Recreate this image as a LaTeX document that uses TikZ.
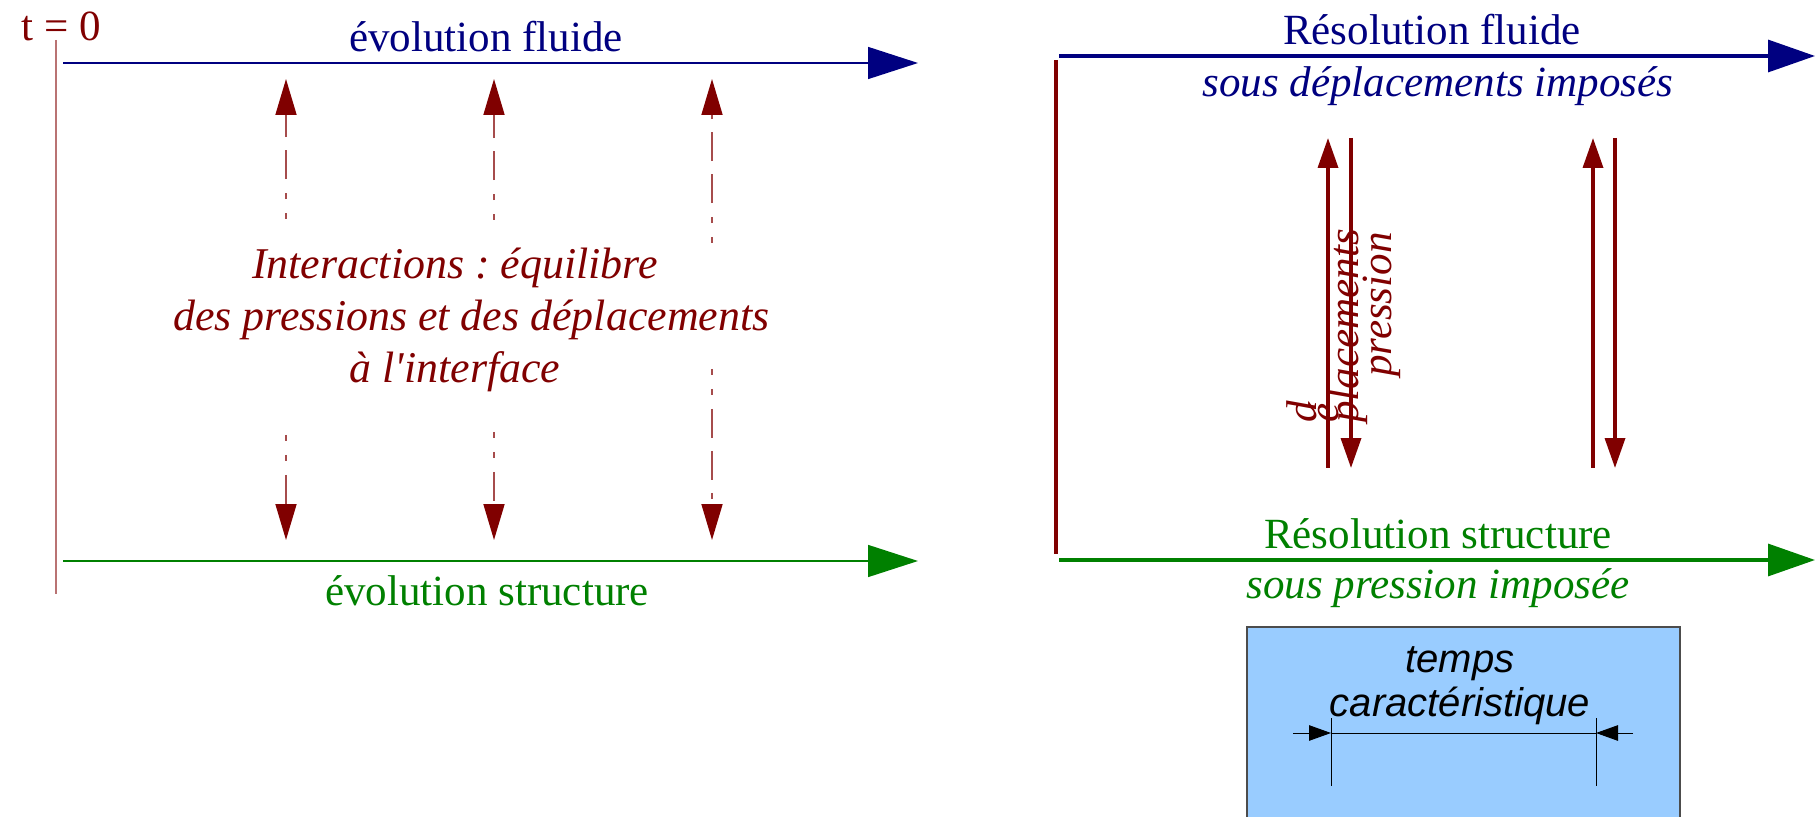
\documentclass[tikz,border=0pt]{standalone}
\usepackage{fontspec}
\setmainfont{Liberation Serif}
\setsansfont{Liberation Sans}
\usetikzlibrary{arrows.meta}
\frenchspacing
\definecolor{dred}{HTML}{800000}
\definecolor{dblue}{HTML}{000080}
\definecolor{dgreen}{HTML}{008000}
\definecolor{boxblue}{HTML}{99CCFF}
\tikzset{
  rmtext/.style={inner sep=0pt, font=\fontsize{24.5pt}{29.6pt}\selectfont},
  ittext/.style={inner sep=0pt, font=\fontsize{24.5pt}{29.6pt}\selectfont\itshape},
  bigittext/.style={inner sep=0pt, font=\fontsize{25pt}{29.6pt}\selectfont\itshape},
  sftext/.style={inner sep=0pt, font=\fontsize{22.8pt}{25pt}\selectfont\sffamily\itshape},
  thinarrow/.style={draw=#1, line width=0.03cm, -{Triangle[length=1cm,width=0.64cm,color=#1]}},
  thickarrow/.style={draw=#1, line width=0.065cm, -{Triangle[length=0.94cm,width=0.64cm,color=#1]}},
  dasharrow/.style={draw=dred!70, line width=0.035cm,
    dash pattern=on 0.12cm off 0.28cm on 0.12cm off 0.28cm on 0.58cm off 0.26cm on 0.58cm off 0.26cm,
    -{Triangle[length=0.72cm,width=0.42cm,color=dred]}},
  pairarrow/.style={draw=dred, line width=0.07cm, -{Triangle[length=0.6cm,width=0.4cm,color=dred]}},
  dimarrow/.style={draw=black, line width=0.02cm, -{Triangle[length=0.44cm,width=0.31cm]}},
  dimline/.style={draw=black, line width=0.02cm},
}
\begin{document}
\begin{tikzpicture}[x=0.02cm,y=-0.02cm]
\useasboundingbox (0,0) rectangle (1816,817);

% ---------- left panel ----------
\coordinate (vt) at (56,40);
\coordinate (vb) at (56,594);
\draw[dred!55, line width=0.03cm] (vt) -- (vb);
\node[rmtext, text=dred, anchor=base] (t0) at (61,40.5) {t = 0};

\coordinate (fa) at (63,63);  \coordinate (fb) at (918,63);
\coordinate (sa) at (63,561); \coordinate (sb) at (918,561);
\draw[thinarrow=dblue] (fa) -- (fb);
\draw[thinarrow=dgreen] (sa) -- (sb);
\node[rmtext, text=dblue, anchor=base] (evf) at (486,51.5) {évolution fluide};
\node[rmtext, text=dgreen, anchor=base] (evs) at (487,605) {évolution structure};

% dashed interaction arrows
\coordinate (u1a) at (286,219); \coordinate (u1b) at (286,79);
\coordinate (u2a) at (494,220); \coordinate (u2b) at (494,79);
\coordinate (u3a) at (712,243); \coordinate (u3b) at (712,79);
\coordinate (d1a) at (286,435); \coordinate (d1b) at (286,540);
\coordinate (d2a) at (494,432); \coordinate (d2b) at (494,540);
\coordinate (d3a) at (712,369); \coordinate (d3b) at (712,540);
\draw[dasharrow] (u1a) -- (u1b);
\draw[dasharrow] (u2a) -- (u2b);
\draw[dasharrow] (u3a) -- (u3b);
\draw[dasharrow] (d1a) -- (d1b);
\draw[dasharrow] (d2a) -- (d2b);
\draw[dasharrow] (d3a) -- (d3b);

\node[bigittext, text=dred, anchor=base, align=center] (inter) at (455,383)
  {Interactions : équilibre\\\hspace*{0.66cm}des pressions et des déplacements\\à l\textquotesingle interface};

% ---------- right panel ----------
\coordinate (rvt) at (1056,60);
\coordinate (rvb) at (1056,554);
\draw[dred, line width=0.065cm] (rvt) -- (rvb);

\coordinate (rfa) at (1059,56);  \coordinate (rfb) at (1815,56);
\coordinate (rsa) at (1059,560); \coordinate (rsb) at (1815,560);
\draw[thickarrow=dblue] (rfa) -- (rfb);
\draw[thickarrow=dgreen] (rsa) -- (rsb);

\node[rmtext, text=dblue, anchor=base] (rf) at (1432,45) {Résolution fluide};
\node[ittext, text=dblue, anchor=base] (rfs) at (1438,97) {sous déplacements imposés};
\node[rmtext, text=dgreen, anchor=base] (rs) at (1438,548) {Résolution structure};
\node[ittext, text=dgreen, anchor=base] (rss) at (1438,598) {sous pression imposée};

% paired exchange arrows
\coordinate (p1a) at (1328,468); \coordinate (p1b) at (1328,138);
\coordinate (p2a) at (1351,138); \coordinate (p2b) at (1351,468);
\coordinate (p3a) at (1593,468); \coordinate (p3b) at (1593,138);
\coordinate (p4a) at (1615,138); \coordinate (p4b) at (1615,468);
\draw[pairarrow] (p1a) -- (p1b);
\draw[pairarrow] (p2a) -- (p2b);
\draw[pairarrow] (p3a) -- (p3b);
\draw[pairarrow] (p4a) -- (p4b);

\node[ittext, text=dred, rotate=90, anchor=base west] (dd) at (1316,423) {d};
\node[ittext, text=dred, rotate=90, anchor=base west] (de) at (1338,423) {é};
\node[ittext, text=dred, rotate=90, anchor=base west] (dp) at (1358,423) {placements};
\node[ittext, text=dred, rotate=90, anchor=base west] (pr) at (1391,377) {pression};

% ---------- characteristic time box ----------
\coordinate (bx1) at (1247,627);
\coordinate (bx2) at (1680,840);
\draw[fill=boxblue, draw=black!70, line width=0.025cm] (bx1) rectangle (bx2);
\node[sftext, anchor=base, align=center] (tc) at (1460,716) {temps\\caractéristique};

\coordinate (el1) at (1331,718); \coordinate (el2) at (1331,786);
\coordinate (er1) at (1596,718); \coordinate (er2) at (1596,786);
\coordinate (hl) at (1331,733);  \coordinate (hr) at (1596,733);
\coordinate (ol) at (1293,733);  \coordinate (or) at (1633,733);
\draw[dimline] (el1) -- (el2);
\draw[dimline] (er1) -- (er2);
\draw[dimline] (hl) -- (hr);
\draw[dimarrow] (ol) -- (hl);
\draw[dimarrow] (or) -- (hr);
\end{tikzpicture}
\end{document}
